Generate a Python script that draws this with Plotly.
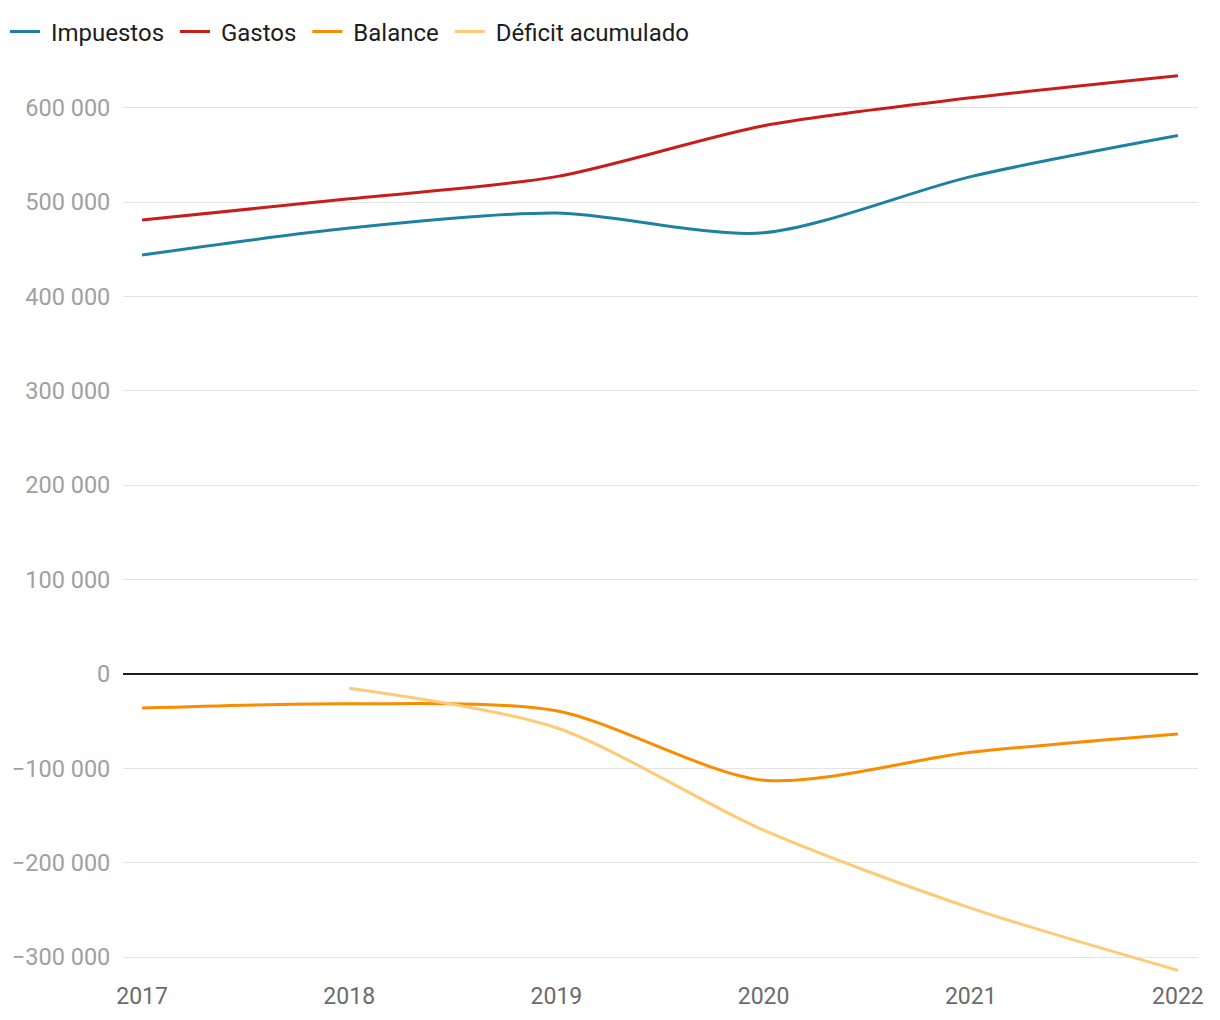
import plotly.graph_objects as go

years = [2017, 2018, 2019, 2020, 2021, 2022]
impuestos = [444000, 472500, 488500, 467500, 527000, 570500]
gastos = [481000, 503500, 527000, 581000, 610500, 634000]
balance = [-36000, -31500, -39000, -112500, -83000, -63500]
deficit_years = [2018, 2019, 2020, 2021, 2022]
deficit = [-15000, -57000, -165500, -248000, -314000]

y_ticks = [600000, 500000, 400000, 300000, 200000, 100000, 0, -100000, -200000, -300000]
y_ticktext = ["600 000", "500 000", "400 000", "300 000", "200 000", "100 000", "0",
              "\u2212100 000", "\u2212200 000", "\u2212300 000"]

series_names = ["Impuestos", "Gastos", "Balance", "Déficit acumulado"]
colors = ["#1d81a2", "#c71e1d", "#fa8c00", "#ffca76"]

fig = go.Figure()
for name, color, xs, ys in zip(series_names, colors,
                               [years, years, years, deficit_years],
                               [impuestos, gastos, balance, deficit]):
    fig.add_trace(go.Scatter(x=xs, y=ys, name="\u00a0" + name + "\u00a0", mode="lines",
                             line=dict(color=color, width=3, shape="spline", smoothing=0.8)))

fig.update_layout(
    width=1220, height=1020,
    margin=dict(l=123, r=22, t=70, b=44, autoexpand=False),
    paper_bgcolor="white", plot_bgcolor="white",
    font=dict(family="Roboto", size=23, color="#1d1d1d"),
    legend=dict(orientation="h", xref="container", x=5 / 1220, xanchor="left",
                yref="container", y=1 - 32 / 1020, yanchor="middle",
                font=dict(size=24, color="#1d1d1d"), itemwidth=30, traceorder="normal"),
    showlegend=True,
)
fig.update_xaxes(range=[2016.908, 2022.097], tickvals=years, ticktext=[str(y) for y in years],
                 showgrid=False, zeroline=False, showline=False, automargin=False,
                 tickfont=dict(size=23, color="#6b6b6b"), ticks="", ticklabelstandoff=4)
fig.update_yaxes(range=[-320000, 640000], tickvals=y_ticks, ticktext=y_ticktext,
                 showgrid=True, gridcolor="#e3e3e3", gridwidth=1, automargin=False,
                 zeroline=True, zerolinecolor="#1d1d1d", zerolinewidth=1.5, showline=False,
                 tickfont=dict(size=23.5, color="#a0a0a0"), ticks="outside", ticklen=7, tickcolor="rgba(0,0,0,0)")

fig.write_html("out.html", config={"displayModeBar": False},
               post_script="document.body.style.margin='0';document.body.style.padding='0';")
